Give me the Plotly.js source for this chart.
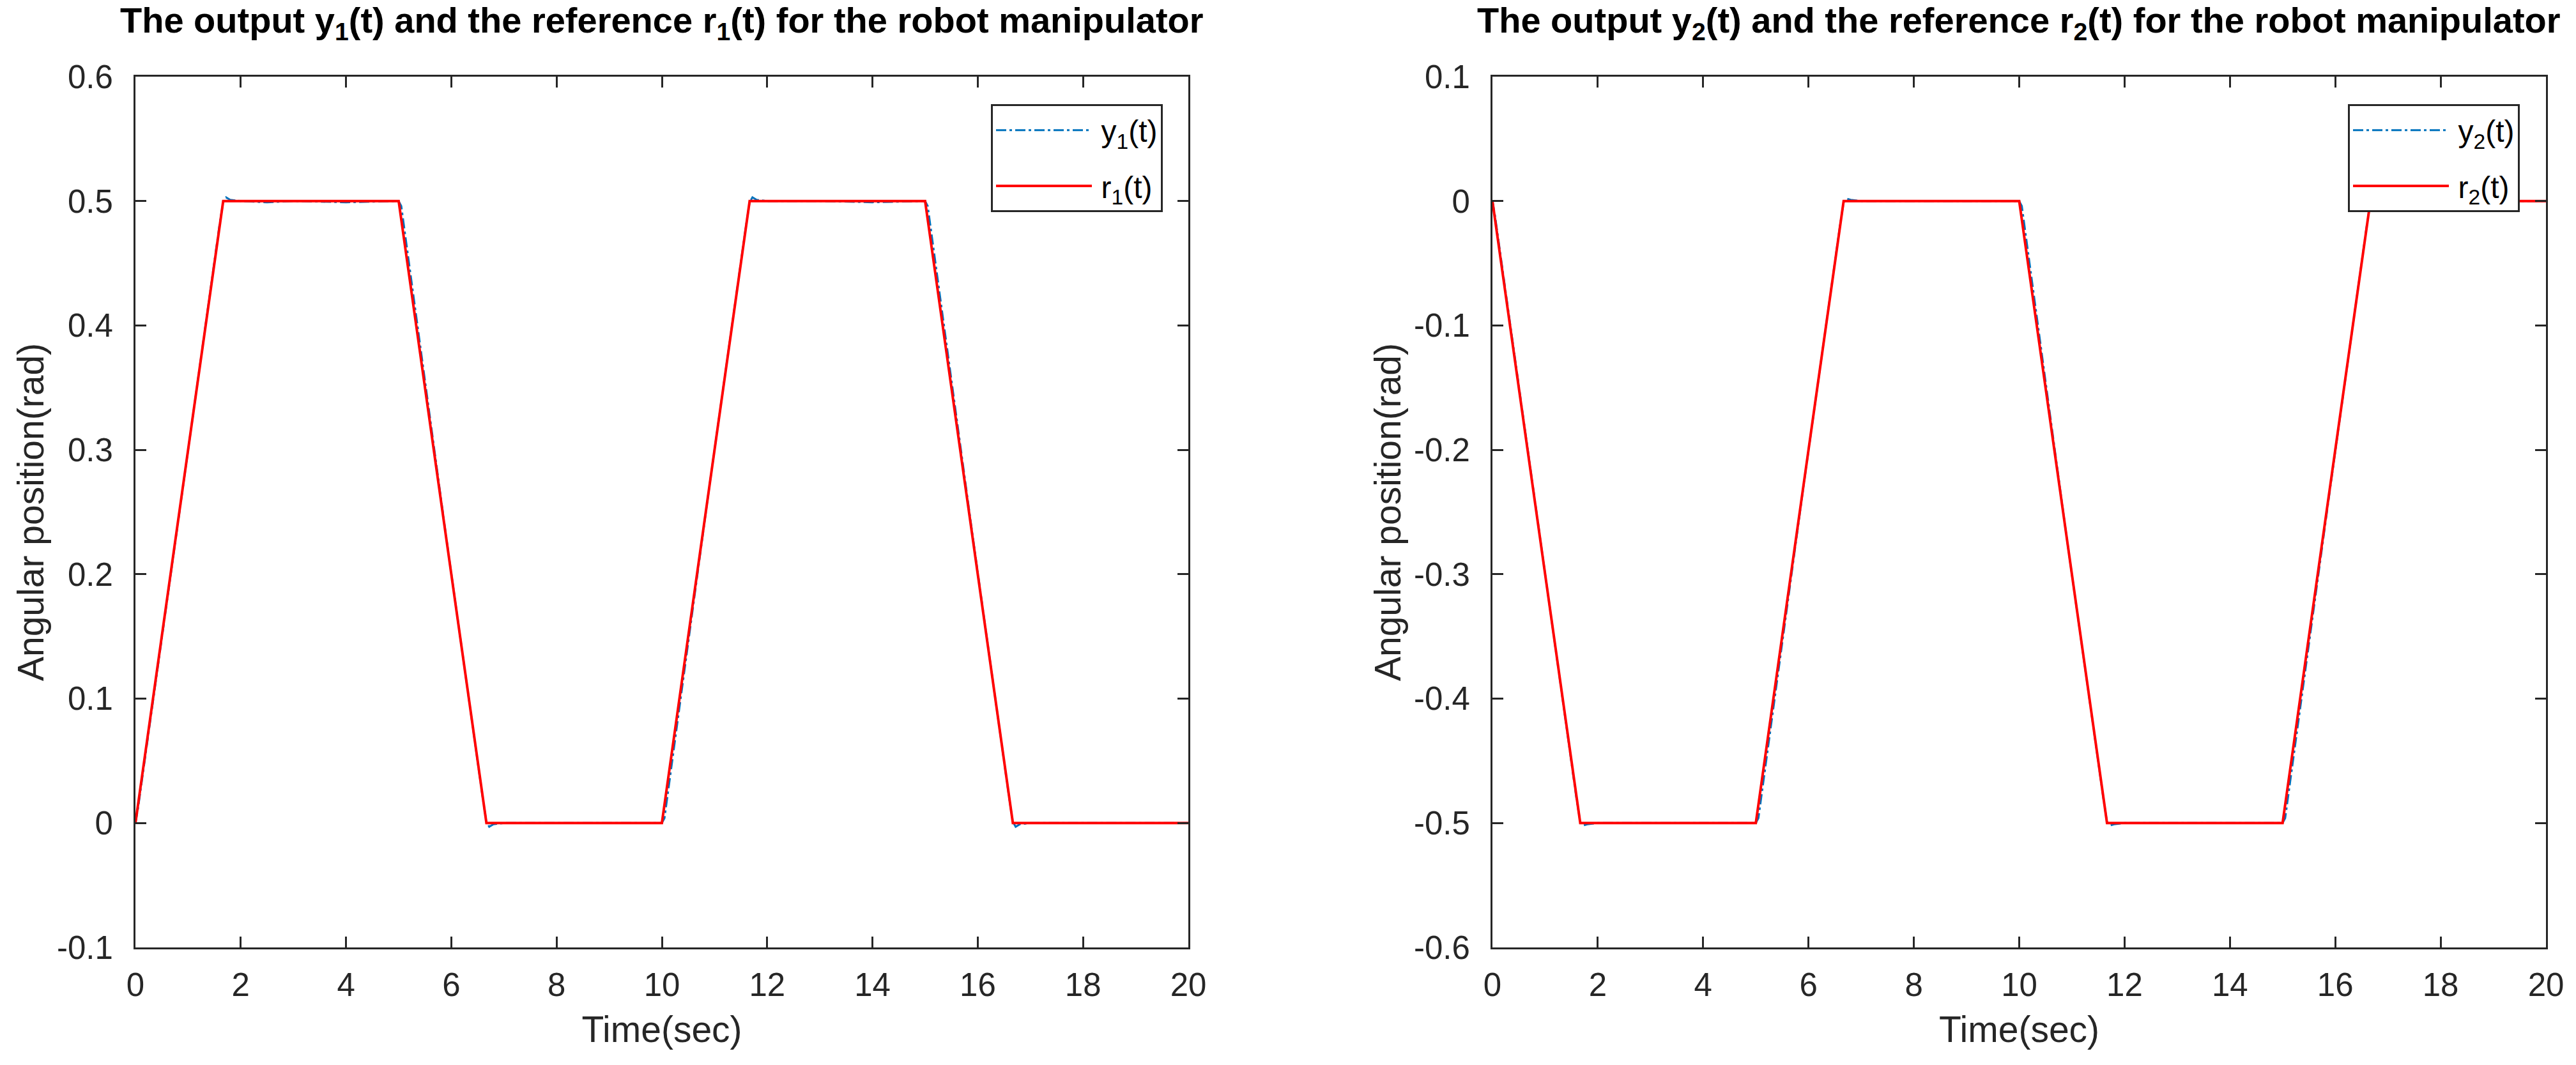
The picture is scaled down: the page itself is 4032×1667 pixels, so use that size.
<!DOCTYPE html>
<html>
<head>
<meta charset="utf-8">
<script src="https://cdn.plot.ly/plotly-3.0.1.min.js"></script>
<style>
  html, body { margin: 0; padding: 0; background: #ffffff; }
  #chart { width: 4032px; height: 1667px; }
</style>
</head>
<body>
<div id="chart"></div>
<script>
// ---------------- data ----------------
// reference trajectories (breakpoints of the trapezoid profiles)
const tRef = [0, 1.667, 5, 6.667, 10, 11.667, 15, 16.667, 20];
const r1 = [0, 0.5, 0.5, 0, 0, 0.5, 0.5, 0, 0];
const r2 = [0, -0.5, -0.5, 0, 0, -0.5, -0.5, 0, 0];

const tOut = [0, 0.05, 0.85, 1.6, 1.667, 1.72, 1.8, 2.0, 2.5, 3.0, 4.0, 4.8, 5.0, 5.05, 5.9, 6.6, 6.667, 6.72, 6.8, 7.0, 8.0, 9.0, 10.0, 10.05, 10.9, 11.6, 11.667, 11.72, 11.8, 12.0, 13.0, 14.0, 14.8, 15.0, 15.05, 15.9, 16.6, 16.667, 16.72, 16.8, 17.0, 18.0, 19.0, 20.0];
const y1 = [0, 0.012, 0.254, 0.482, 0.499, 0.503, 0.501, 0.500, 0.499, 0.500, 0.499, 0.500, 0.500, 0.496, 0.231, 0.019, 0.001, -0.003, -0.001, 0.000, 0.000, 0.000, 0.000, 0.004, 0.270, 0.481, 0.499, 0.503, 0.501, 0.500, 0.500, 0.499, 0.500, 0.500, 0.496, 0.232, 0.019, 0.001, -0.003, -0.001, 0.000, 0.000, 0.000, 0.000];
const y2 = [0, -0.012, -0.254, -0.482, -0.499, -0.502, -0.501, -0.500, -0.500, -0.500, -0.500, -0.500, -0.500, -0.496, -0.231, -0.019, -0.001, 0.002, 0.001, 0.000, 0.000, 0.000, 0.000, -0.004, -0.270, -0.481, -0.499, -0.502, -0.501, -0.500, -0.500, -0.500, -0.500, -0.500, -0.496, -0.232, -0.019, -0.001, 0.002, 0.001, 0.000, 0.000, 0.000, 0.000];

// tick labels
const xTicks = [0, 2, 4, 6, 8, 10, 12, 14, 16, 18, 20];
const xTickText = ['0', '2', '4', '6', '8', '10', '12', '14', '16', '18', '20'];
const yTicks1 = [-0.1, 0, 0.1, 0.2, 0.3, 0.4, 0.5, 0.6];
const yTickText1 = ['-0.1', '0', '0.1', '0.2', '0.3', '0.4', '0.5', '0.6'];
const yTicks2 = [-0.6, -0.5, -0.4, -0.3, -0.2, -0.1, 0, 0.1];
const yTickText2 = ['-0.6', '-0.5', '-0.4', '-0.3', '-0.2', '-0.1', '0', '0.1'];

const titles = [
  '<b>The output y<sub>1</sub>(t) and the reference r<sub>1</sub>(t) for the robot manipulator</b>',
  '<b>The output y<sub>2</sub>(t) and the reference r<sub>2</sub>(t) for the robot manipulator</b>'
];
const xTitle = 'Time(sec)';
const yTitle = 'Angular position(rad)';
const names1 = ['y<sub>1</sub>(t)', 'r<sub>1</sub>(t)'];
const names2 = ['y<sub>2</sub>(t)', 'r<sub>2</sub>(t)'];

// ---------------- style ----------------
const W = 4032, H = 1667;
const FONT = 'Liberation Sans, Arial, Helvetica, sans-serif';
const AXC = '#262626';
const BLUE = '#0072BD';
const RED = '#FF0000';
const DASHDOT = '16px,5px,4px,5px';
const GAP = '\u2009'; // thin space between legend sample and label

const px = v => v / W;
const py = v => 1 - v / H;

const traces = [
  { x: tOut, y: y1, xaxis: 'x', yaxis: 'y', name: GAP + names1[0], mode: 'lines', legend: 'legend', legendgroup: 'a1',
    line: { color: BLUE, width: 3, dash: DASHDOT } },
  { x: tRef, y: r1, xaxis: 'x', yaxis: 'y', name: GAP + names1[1], mode: 'lines', legend: 'legend', legendgroup: 'b1',
    line: { color: RED, width: 4 } },
  { x: tOut, y: y2, xaxis: 'x2', yaxis: 'y2', name: GAP + names2[0], mode: 'lines', legend: 'legend2', legendgroup: 'a2',
    line: { color: BLUE, width: 3, dash: DASHDOT } },
  { x: tRef, y: r2, xaxis: 'x2', yaxis: 'y2', name: GAP + names2[1], mode: 'lines', legend: 'legend2', legendgroup: 'b2',
    line: { color: RED, width: 4 } }
];

function xAxis(dom, anchor) {
  return {
    domain: dom, anchor: anchor, range: [0, 20], tickvals: xTicks, ticktext: xTickText,
    showline: true, mirror: 'ticks', linecolor: AXC, linewidth: 3,
    ticks: 'inside', ticklen: 17, tickwidth: 3, tickcolor: AXC,
    showgrid: false, zeroline: false, ticklabelstandoff: 12,
    tickfont: { family: FONT, size: 51, color: AXC },
    title: { text: xTitle, font: { family: FONT, size: 57, color: AXC }, standoff: 22 }
  };
}
function yAxis(range, tv, tt, anchor) {
  return {
    domain: [py(1483), py(120)], anchor: anchor, range: range, tickvals: tv, ticktext: tt,
    showline: true, mirror: 'ticks', linecolor: AXC, linewidth: 3,
    ticks: 'inside', ticklen: 17, tickwidth: 3, tickcolor: AXC,
    showgrid: false, zeroline: false, ticklabelstandoff: 22,
    tickfont: { family: FONT, size: 51, color: AXC },
    title: { text: yTitle, font: { family: FONT, size: 57, color: AXC }, standoff: 2 }
  };
}
function legendBox(xRight) {
  return {
    x: px(xRight), xanchor: 'right', y: py(163), yanchor: 'top',
    bgcolor: '#ffffff', bordercolor: AXC, borderwidth: 3,
    font: { family: FONT, size: 48, color: '#000000' },
    itemwidth: 150, tracegroupgap: 22, traceorder: 'grouped'
  };
}

const layout = {
  width: W, height: H,
  margin: { l: 0, r: 0, t: 0, b: 0 },
  paper_bgcolor: '#ffffff', plot_bgcolor: '#ffffff',
  showlegend: true,
  xaxis: xAxis([px(212), px(1860)], 'y'),
  yaxis: yAxis([-0.1, 0.6], yTicks1, yTickText1, 'x'),
  xaxis2: xAxis([px(2336), px(3985)], 'y2'),
  yaxis2: yAxis([-0.6, 0.1], yTicks2, yTickText2, 'x2'),
  legend: legendBox(1820),
  legend2: legendBox(3944),
  annotations: [
    { text: titles[0], x: px(1036), y: py(73), xref: 'paper', yref: 'paper', xanchor: 'center', yanchor: 'bottom',
      showarrow: false, font: { family: FONT, size: 56, color: '#000000' } },
    { text: titles[1], x: px(3160), y: py(73), xref: 'paper', yref: 'paper', xanchor: 'center', yanchor: 'bottom',
      showarrow: false, font: { family: FONT, size: 56, color: '#000000' } }
  ]
};

Plotly.newPlot('chart', traces, layout, { staticPlot: true, displayModeBar: false });
</script>
</body>
</html>
